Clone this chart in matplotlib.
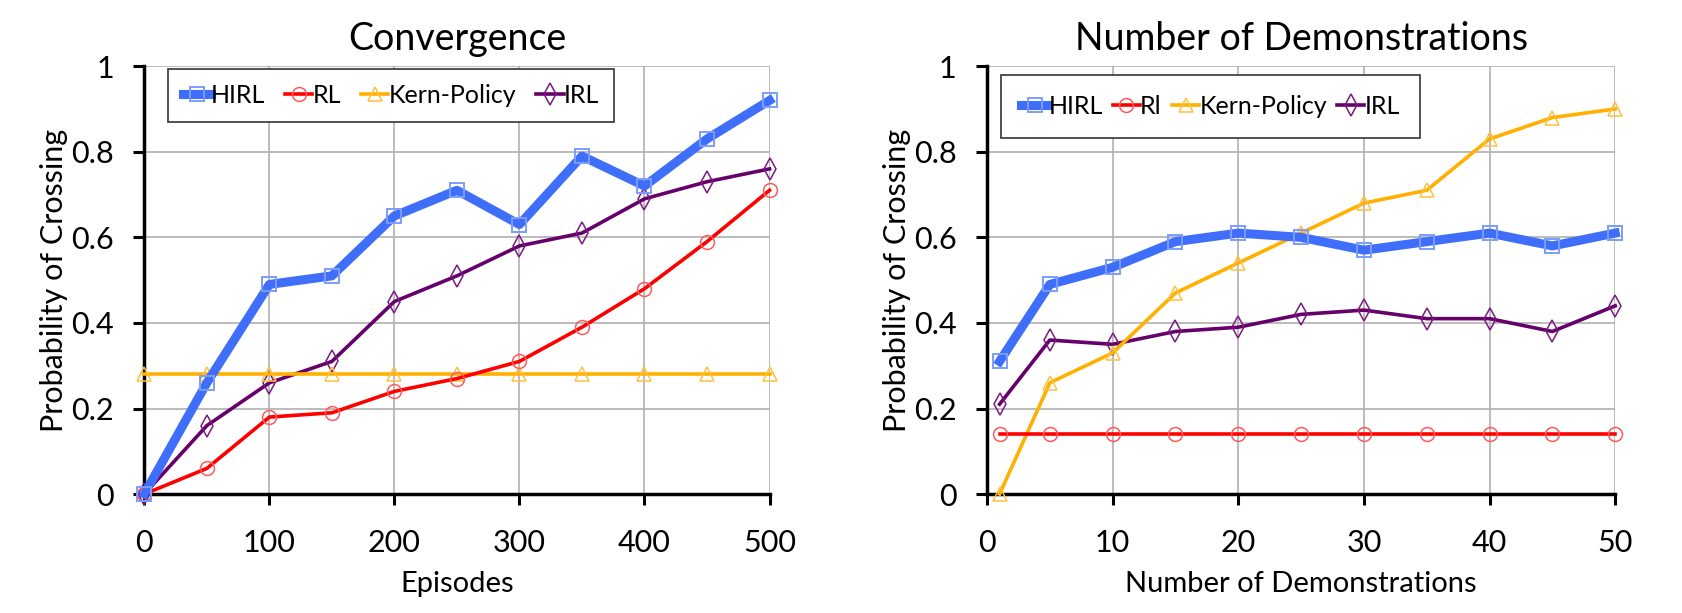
import matplotlib
matplotlib.use("Agg")
import matplotlib.pyplot as plt

plt.rcParams['font.family'] = ['Lato', 'DejaVu Sans']

# Left panel: convergence
episodes = [0, 50, 100, 150, 200, 250, 300, 350, 400, 450, 500]
conv_hirl = [0.0, 0.26, 0.49, 0.51, 0.65, 0.71, 0.63, 0.79, 0.72, 0.83, 0.92]
conv_rl = [0.0, 0.06, 0.18, 0.19, 0.24, 0.27, 0.31, 0.39, 0.48, 0.59, 0.71]
conv_kern = [0.28, 0.28, 0.28, 0.28, 0.28, 0.28, 0.28, 0.28, 0.28, 0.28, 0.28]
conv_irl = [0.0, 0.16, 0.26, 0.31, 0.45, 0.51, 0.58, 0.61, 0.69, 0.73, 0.76]

# Right panel: number of demonstrations
demos = [1, 5, 10, 15, 20, 25, 30, 35, 40, 45, 50]
demo_hirl = [0.31, 0.49, 0.53, 0.59, 0.61, 0.60, 0.57, 0.59, 0.61, 0.58, 0.61]
demo_rl = [0.14, 0.14, 0.14, 0.14, 0.14, 0.14, 0.14, 0.14, 0.14, 0.14, 0.14]
demo_kern = [0.0, 0.26, 0.33, 0.47, 0.54, 0.61, 0.68, 0.71, 0.83, 0.88, 0.90]
demo_irl = [0.21, 0.36, 0.35, 0.38, 0.39, 0.42, 0.43, 0.41, 0.41, 0.38, 0.44]

y_ticks = [0, 0.2, 0.4, 0.6, 0.8, 1.0]
y_ticklabels = ['0', '0.2', '0.4', '0.6', '0.8', '1']
left_xticks = [0, 100, 200, 300, 400, 500]
right_xticks = [0, 10, 20, 30, 40, 50]

names_left = ['HIRL', 'RL', 'Kern-Policy', 'IRL']
names_right = ['HIRL', 'Rl', 'Kern-Policy', 'IRL']

styles = [
    dict(color='#3F6EFA', lw=6.5, marker='s', ms=10, mec='#7C9DFF', mfc='none', mew=1.4),
    dict(color='#FF0000', lw=2.6, marker='o', ms=10, mec='#FF5A5A', mfc='none', mew=1.1),
    dict(color='#FFB000', lw=2.6, marker='^', ms=10, mec='#FFC040', mfc='none', mew=1.1),
    dict(color='#66006A', lw=2.6, marker='d', ms=11, mec='#7A1A80', mfc='none', mew=1.1),
]

fig = plt.figure(figsize=(16.82, 6.13), dpi=100)
ax1 = fig.add_axes([0.0858, 0.194, 0.3717, 0.698])
ax2 = fig.add_axes([0.5868, 0.194, 0.3735, 0.698])

def setup(ax, xs, series, names, xticks, xlim, title, xlabel, legend_bbox, colsp, bpad):
    order = [3, 2, 1, 0]
    lines = {}
    for i in order:
        st = styles[i]
        ln, = ax.plot(xs, series[i], color=st['color'], lw=st['lw'], marker=st['marker'],
                      ms=st['ms'], mec=st['mec'], mfc=st['mfc'], mew=st['mew'],
                      label=names[i], zorder=3 + (3 - i), clip_on=False)
        lines[i] = ln
    ax.set_xlim(*xlim)
    ax.set_ylim(0, 1)
    ax.set_xticks(xticks)
    ax.set_yticks(y_ticks)
    ax.set_yticklabels(y_ticklabels)
    ax.grid(True, color='#B0B0B0', lw=1.2, zorder=0)
    ax.set_axisbelow(True)
    for s in ['top', 'right']:
        ax.spines[s].set_visible(False)
    for s in ['left', 'bottom']:
        ax.spines[s].set_linewidth(2.5)
        ax.spines[s].set_color('black')
    ax.tick_params(axis='x', direction='out', length=8, width=2.2, labelsize=22, pad=17)
    ax.tick_params(axis='y', direction='out', length=8, width=2.2, labelsize=22, pad=14)
    ax.set_title(title, fontsize=27, pad=12)
    ax.set_xlabel(xlabel, fontsize=21, labelpad=10)
    ax.set_ylabel('Probability of Crossing', fontsize=22, labelpad=2)
    leg = ax.legend([lines[i] for i in range(4)], names, loc='upper left',
                    bbox_to_anchor=legend_bbox, ncol=4, fontsize=18, frameon=True,
                    fancybox=False, edgecolor='#333333', framealpha=1,
                    handlelength=1.1, handletextpad=0.0, columnspacing=colsp,
                    borderpad=bpad, borderaxespad=0)
    leg.get_frame().set_linewidth(1.2)

setup(ax1, episodes, [conv_hirl, conv_rl, conv_kern, conv_irl], names_left,
      left_xticks, (0, 500), 'Convergence', 'Episodes', (0.038, 0.993), 0.8, 0.6)
setup(ax2, demos, [demo_hirl, demo_rl, demo_kern, demo_irl], names_right,
      right_xticks, (0, 50), 'Number of Demonstrations', 'Number of Demonstrations',
      (0.022, 0.98), 0.4, 0.8)

fig.savefig('out.png', dpi=100)
